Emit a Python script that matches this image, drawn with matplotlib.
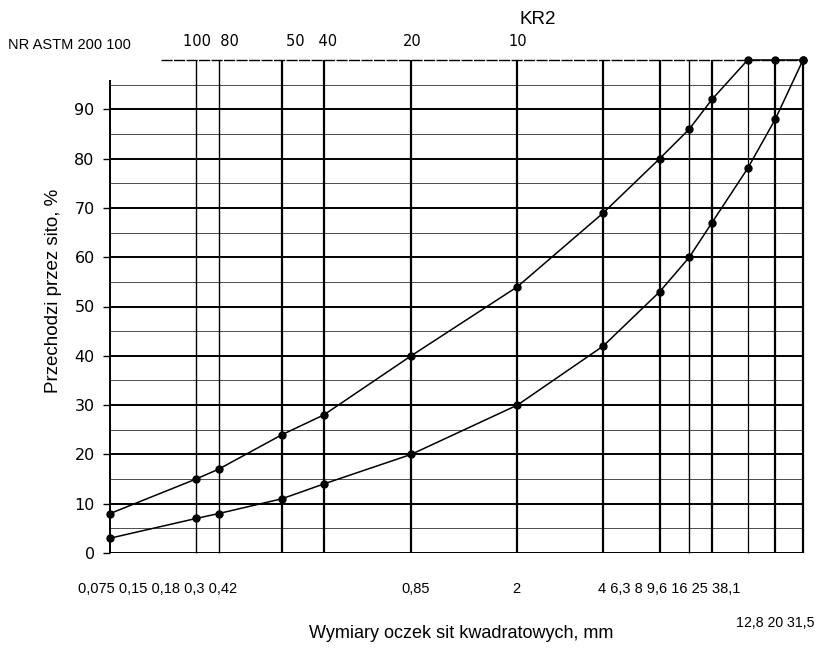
import numpy as np
import matplotlib.pyplot as plt

plt.rcParams["font.family"] = ["Liberation Sans", "DejaVu Sans"]

# sieve openings (mm) - positions of the vertical lines
sieves = [0.075, 0.15, 0.18, 0.3, 0.42, 0.85, 2, 4, 6.3, 8, 9.6, 12.8, 16, 20]
# grading envelope of KR2, % passing
upper = [8, 15, 17, 24, 28, 40, 54, 69, 80, 86, 92, 100, 100, 100]
lower = [3, 7, 8, 11, 14, 20, 30, 42, 53, 60, 67, 78, 88, 100]

sieve_width = [1.4, 1.0, 1.0, 1.6, 1.6, 1.6, 1.6, 1.6, 1.6, 1.0, 1.6, 0.9, 1.6, 1.6]

astm_labels = ["100  80", "50   40", "20", "10"]
astm_x = [211, 312, 412, 518]
bottom_row1 = ["0,075 0,15 0,18 0,3 0,42", "0,85", "2", "4 6,3 8 9,6 16 25 38,1"]
bottom_row1_x = [78, 401, 512, 598]
bottom_row2 = "12,8 20 31,5"

W, H = 819, 648
fig = plt.figure(figsize=(8.19, 6.48), dpi=100)
ax = fig.add_axes([110 / W, 1 - 553 / H, 693 / W, 493 / H])
ax.set_xscale("log")
ax.set_xlim(0.075, 20)
ax.set_ylim(0, 100)
for s in ax.spines.values():
    s.set_visible(False)

# horizontal grid: every 10 thick, every 5 thin
for y in range(0, 100, 10):
    ax.hlines(y, 0.075, 20, color="black", lw=1.4)
for y in range(5, 100, 10):
    ax.hlines(y, 0.075, 20, color="black", lw=0.7, alpha=0.7)
ax.hlines(100, 0.113, 20, color="black", lw=1.0, linestyles=(0, (8, 1)), clip_on=False)

# vertical lines at the sieves
for i, s in enumerate(sieves):
    top = 96 if i == 0 else 100
    ax.vlines(s, 0, top, color="black", lw=sieve_width[i], clip_on=False)

ax.plot(sieves, upper, "-o", color="black", lw=1.1, ms=5, clip_on=False)
ax.plot(sieves, lower, "-o", color="black", lw=1.1, ms=5, clip_on=False)

ax.set_xticks([])
ax.minorticks_off()
ax.set_yticks(range(0, 100, 10))
ax.tick_params(axis="y", length=5, width=1, direction="out", pad=6)
for t in ax.get_yticklabels():
    t.set_fontfamily("DejaVu Sans")
    t.set_fontsize(11.5)

fig.text(53 / W, 1 - 291 / H, "Przechodzi przez sito, %", fontsize=13.5,
         rotation=90, ha="center", va="center")
fig.text(538 / W, 1 - 20 / H, "KR2", fontsize=13.5, ha="center", va="center")
fig.text(8 / W, 1 - 45 / H, "NR ASTM 200 100", fontsize=10.5, ha="left", va="center")
for lab, x in zip(astm_labels, astm_x):
    fig.text(x / W, 1 - 41 / H, lab, fontsize=10.5, ha="center", va="center",
             family="DejaVu Sans")
for lab, x in zip(bottom_row1, bottom_row1_x):
    fig.text(x / W, 1 - 589 / H, lab, fontsize=10.5, ha="left", va="center")
fig.text(815 / W, 1 - 623 / H, bottom_row2, fontsize=10.2, ha="right", va="center")
fig.text(461 / W, 1 - 633 / H, "Wymiary oczek sit kwadratowych, mm", fontsize=13,
         ha="center", va="center")

fig.savefig("out.png", dpi=100)
